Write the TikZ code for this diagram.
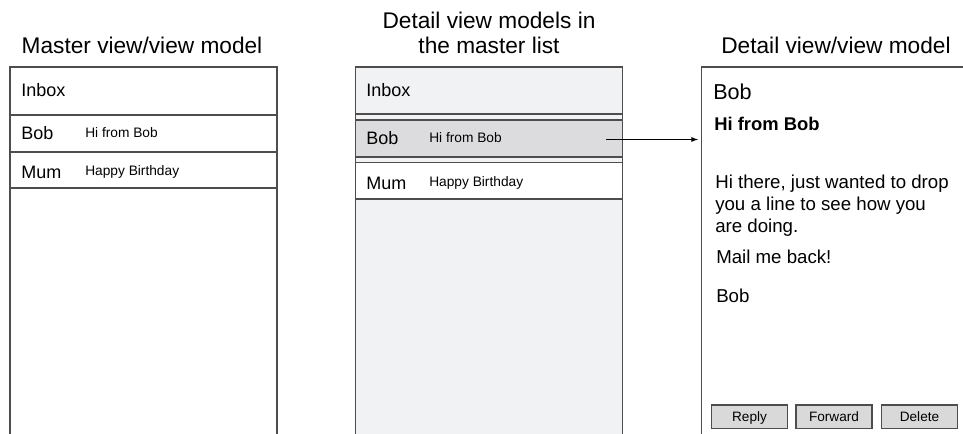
\documentclass[tikz,border=0pt]{standalone}
\usepackage{fontspec}
\setmainfont{Liberation Sans}
\usepackage{tikz}

\begin{document}
\begin{tikzpicture}[x=0.75pt,y=-0.75pt]
\definecolor{paneLine}{HTML}{4D4D4D}
\definecolor{paneFill}{HTML}{F1F2F4}
\definecolor{rowSelected}{HTML}{DCDCDE}
\definecolor{buttonFill}{HTML}{D9D9D9}
\tikzset{
  paneRule/.style={paneLine,line width=1.1pt},
  paneTitle/.style={anchor=base,inner sep=0pt,font=\fontsize{17}{20}\selectfont},
  rowName/.style={anchor=base west,inner sep=0pt,font=\fontsize{13.5}{16}\selectfont},
  rowSubject/.style={anchor=base west,inner sep=0pt,font=\fontsize{10.3}{12}\selectfont},
  mailText/.style={anchor=base west,inner sep=0pt,font=\fontsize{14}{16.5}\selectfont},
  mailButton/.style={draw=paneLine,line width=0.8pt,fill=buttonFill,inner sep=0pt,
    text height=8pt,text depth=0.2pt,font=\fontsize{10.2}{12}\selectfont},
}
\useasboundingbox (0,0) rectangle (963,434);
% master view
\node[paneTitle] (masterTitle) at (142,54) {Master view/view model};
\draw[paneRule] (10,434) -- (10,67) -- (277,67) -- (277,434);
\foreach \y in {115,152,188} {
  \draw[paneRule] (10,\y) -- (277,\y);
}
\node[rowName] (masterInbox) at (21,96.7) {Inbox};
\node[rowName] (masterBob) at (21,140) {Bob};
\node[rowSubject] (masterBobSubject) at (85,137.3) {Hi from Bob};
\node[rowName] (masterMum) at (21,178.3) {Mum};
\node[rowSubject] (masterMumSubject) at (85,175.5) {Happy Birthday};
% master list of detail view models
\node[paneTitle] (listTitleA) at (489,28.3) {Detail view models in};
\node[paneTitle] (listTitleB) at (489,53.3) {the master list};
\fill[paneFill] (355.5,67) rectangle (622.5,434);
\draw[paneRule] (355.5,434) -- (355.5,67) -- (622.5,67) -- (622.5,434);
\draw[paneRule] (355.5,114) -- (622.5,114);
\draw[paneRule,fill=rowSelected] (355.5,120) rectangle (622.5,157);
\draw[paneRule,fill=white] (355.5,162.5) rectangle (622.5,199);
\node[rowName] (listInbox) at (366,96.7) {Inbox};
\node[rowName] (listBob) at (366,145) {Bob};
\node[rowSubject] (listBobSubject) at (429,142.7) {Hi from Bob};
\node[rowName] (listMum) at (366,189.3) {Mum};
\node[rowSubject] (listMumSubject) at (429,186.5) {Happy Birthday};
% detail view
\node[paneTitle] (detailTitle) at (836,54) {Detail view/view model};
\draw[paneRule] (701.5,434) -- (701.5,67) -- (963,67);
\node[anchor=base west,inner sep=0pt,font=\fontsize{16.2}{19}\selectfont] (detailFrom) at (713,100) {Bob};
\node[mailText,font=\bfseries\fontsize{13.8}{16}\selectfont] (detailSubject) at (714,130.7) {Hi from Bob};
\node[mailText] (bodyA) at (715,189) {Hi there, just wanted to drop};
\node[mailText] (bodyB) at (715,211) {you a line to see how you};
\node[mailText] (bodyC) at (715,233) {are doing.};
\node[mailText] (bodyD) at (716,263.3) {Mail me back!};
\node[mailText] (bodyE) at (716,302.7) {Bob};
\foreach \x/\lab/\nm in {749.5/Reply/reply,834/Forward/forward,919.5/Delete/delete} {
  \node[mailButton,minimum width=57pt,minimum height=17.3pt] (\nm) at (\x,416.5) {\lab};
}
% selected row opens the detail view
\coordinate (bobPick) at (606,139.5);
\coordinate (detailIn) at (698,139.5);
\draw[-latex,line width=0.7pt] (bobPick) -- (detailIn);
\end{tikzpicture}
\end{document}
